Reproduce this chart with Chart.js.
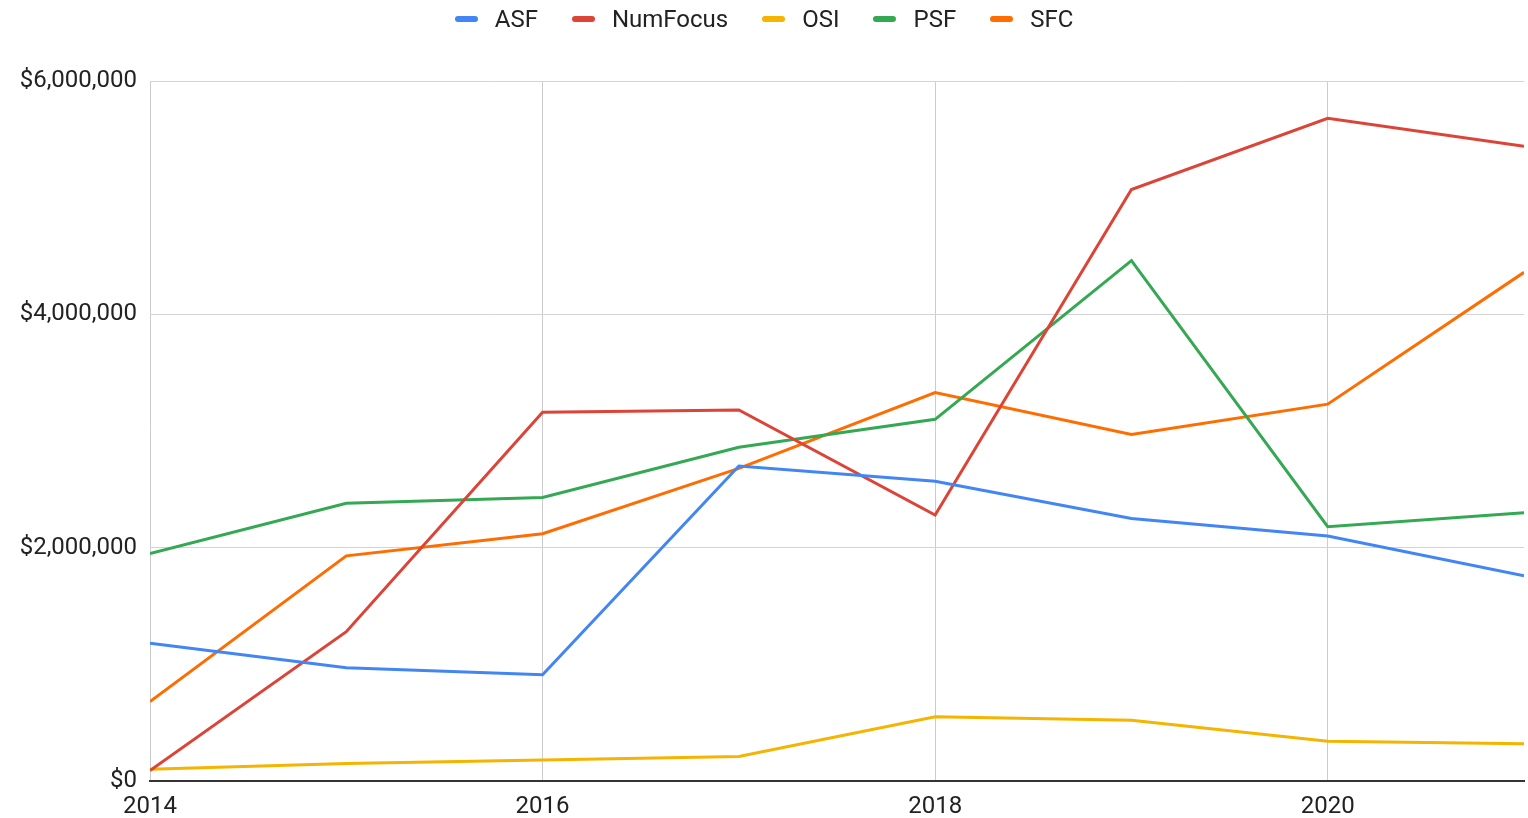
<!DOCTYPE html>
<html>
<head>
<meta charset="utf-8">
<script src="https://cdn.jsdelivr.net/npm/chart.js@4"></script>
<style>
  html, body { margin: 0; padding: 0; background: #fff; }
  #wrap { position: relative; width: 1528px; height: 818px; }
  #legend { position: absolute; left: 0; top: 4px; width: 1528px; height: 30px;
            display: flex; justify-content: center; align-items: center; gap: 34px;
            font-family: Roboto, Arial, sans-serif; font-size: 24px; color: #222; }
  #legend .item { display: flex; align-items: center; }
  #legend .mark { width: 23px; height: 6px; border-radius: 3px; margin-right: 17px; }
</style>
</head>
<body>
<div id="wrap"><canvas id="c"></canvas><div id="legend"></div></div>
<script>
// data
const years    = [2014, 2015, 2016, 2017, 2018, 2019, 2020, 2021];
const asf      = [1180000, 970000, 910000, 2700000, 2570000, 2250000, 2100000, 1760000];
const numfocus = [90000, 1280000, 3160000, 3180000, 2280000, 5070000, 5680000, 5440000];
const osi      = [100000, 150000, 180000, 210000, 550000, 520000, 340000, 320000];
const psf      = [1950000, 2380000, 2430000, 2860000, 3100000, 4460000, 2180000, 2300000];
const sfc      = [680000, 1930000, 2120000, 2680000, 3330000, 2970000, 3230000, 4360000];

const FONT = 'Roboto, Arial, sans-serif';
const pts = arr => years.map((y, i) => ({ x: y, y: arr[i] }));
const line = (label, arr, color) => ({
    label, data: pts(arr), borderColor: color, backgroundColor: color,
    borderWidth: 3, pointRadius: 0, tension: 0, fill: false
});
function money(v) { return '$' + v.toString().split(/(?=(?:\d{3})+$)/g).join(','); }

const chart = new Chart(document.getElementById('c'), {
    type: 'line',
    data: {
        datasets: [
            line('ASF', asf, '#4285f4'),
            line('NumFocus', numfocus, '#db4437'),
            line('OSI', osi, '#f4b400'),
            line('PSF', psf, '#34a853'),
            line('SFC', sfc, '#ff6d01'),
        ]
    },
    options: {
        responsive: true,
        maintainAspectRatio: false,
        animation: false,
        layout: { padding: { left: 14, right: 4, top: 81, bottom: 0 } },
        scales: {
            x: {
                type: 'linear', min: 2014, max: 2021,
                ticks: { stepSize: 2, includeBounds: false, color: '#222', padding: 12,
                         font: { family: FONT, size: 24 }, callback: v => String(v) },
                grid: { color: '#cccccc', lineWidth: 1, drawTicks: false },
                border: { color: '#333333', width: 2 },
                afterFit(scale) { scale.height = 37; }
            },
            y: {
                min: 0, max: 6000000,
                ticks: { stepSize: 2000000, color: '#222', padding: 13,
                         font: { family: FONT, size: 24 }, callback: v => money(v) },
                grid: { color: '#d4d4d4', lineWidth: 1, drawTicks: false },
                border: { display: false },
                afterFit(scale) { scale.width = 136; }
            }
        },
        plugins: {
            legend: { display: false },
            tooltip: { enabled: false }
        }
    }
});

// legend as real text, built from the datasets
const lg = document.getElementById('legend');
chart.data.datasets.forEach(ds => {
    const it = document.createElement('div'); it.className = 'item';
    const mk = document.createElement('span'); mk.className = 'mark'; mk.style.background = ds.borderColor;
    const tx = document.createElement('span'); tx.textContent = ds.label;
    it.append(mk, tx); lg.append(it);
});
</script>
</body>
</html>
